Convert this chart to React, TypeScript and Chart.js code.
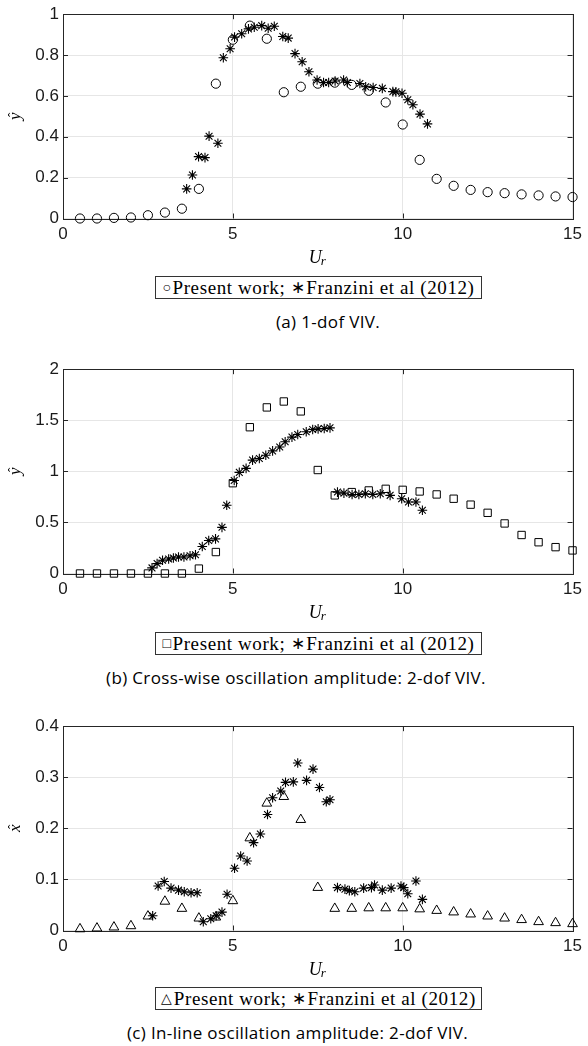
import React, { useEffect, useRef } from "react";
import { Chart, registerables } from "chart.js";

Chart.register(...registerables);

// ---------- data ----------
const presentX = [0.5, 1, 1.5, 2, 2.5, 3, 3.5, 4, 4.5, 5, 5.5, 6, 6.5, 7, 7.5, 8, 8.5, 9, 9.5, 10, 10.5, 11, 11.5, 12, 12.5, 13, 13.5, 14, 14.5, 15];

const presentA = [0, 0, 0.003, 0.005, 0.016, 0.029, 0.048, 0.145, 0.66, 0.875, 0.944, 0.88, 0.618, 0.645, 0.66, 0.665, 0.654, 0.625, 0.568, 0.46, 0.287, 0.194, 0.16, 0.14, 0.129, 0.124, 0.118, 0.113, 0.108, 0.105];
const franziniAX = [3.64, 3.81, 3.99, 4.18, 4.3, 4.56, 4.72, 4.92, 5.05, 5.26, 5.46, 5.63, 5.85, 6.04, 6.22, 6.47, 6.63, 6.83, 7.04, 7.24, 7.48, 7.67, 7.82, 8.01, 8.26, 8.37, 8.74, 8.91, 9.13, 9.4, 9.71, 9.8, 9.98, 10.15, 10.3, 10.51, 10.73];
const franziniAY = [0.145, 0.213, 0.303, 0.298, 0.403, 0.368, 0.787, 0.831, 0.888, 0.904, 0.928, 0.936, 0.944, 0.931, 0.941, 0.891, 0.883, 0.807, 0.767, 0.718, 0.678, 0.666, 0.666, 0.673, 0.678, 0.666, 0.661, 0.645, 0.641, 0.637, 0.621, 0.62, 0.613, 0.581, 0.557, 0.511, 0.463];

const presentB = [0, 0, 0, 0, 0, 0, 0, 0.048, 0.21, 0.884, 1.432, 1.626, 1.684, 1.587, 1.013, 0.765, 0.797, 0.813, 0.829, 0.819, 0.803, 0.774, 0.732, 0.674, 0.594, 0.49, 0.377, 0.306, 0.258, 0.226];
const franziniBX = [2.62, 2.77, 2.93, 3.11, 3.25, 3.4, 3.56, 3.74, 3.9, 4.1, 4.29, 4.49, 4.68, 4.82, 5.04, 5.19, 5.39, 5.58, 5.78, 5.97, 6.17, 6.38, 6.54, 6.74, 6.91, 7.16, 7.35, 7.51, 7.69, 7.86, 8.08, 8.27, 8.51, 8.71, 8.9, 9.12, 9.34, 9.63, 9.97, 10.17, 10.39, 10.58];
const franziniBY = [0.055, 0.097, 0.129, 0.142, 0.152, 0.161, 0.161, 0.174, 0.184, 0.265, 0.323, 0.339, 0.452, 0.668, 0.91, 0.99, 1.029, 1.11, 1.126, 1.158, 1.2, 1.239, 1.29, 1.335, 1.361, 1.387, 1.41, 1.416, 1.419, 1.426, 0.797, 0.787, 0.774, 0.774, 0.781, 0.774, 0.781, 0.765, 0.732, 0.7, 0.7, 0.619];

const presentC = [0.003, 0.0045, 0.0065, 0.009, 0.028, 0.057, 0.043, 0.024, 0.026, 0.058, 0.181, 0.249, 0.262, 0.217, 0.084, 0.043, 0.043, 0.044, 0.044, 0.044, 0.042, 0.039, 0.036, 0.032, 0.028, 0.024, 0.021, 0.017, 0.015, 0.013];
const franziniCX = [2.64, 2.8, 2.98, 3.18, 3.4, 3.57, 3.77, 3.95, 4.13, 4.35, 4.51, 4.68, 4.83, 5.05, 5.23, 5.42, 5.61, 5.81, 6.02, 6.17, 6.41, 6.55, 6.78, 6.91, 7.17, 7.36, 7.55, 7.75, 7.86, 8.08, 8.3, 8.43, 8.59, 8.85, 9.08, 9.17, 9.4, 9.66, 9.95, 10.03, 10.15, 10.39, 10.58];
const franziniCY = [0.029, 0.087, 0.096, 0.083, 0.079, 0.076, 0.074, 0.074, 0.017, 0.023, 0.029, 0.036, 0.071, 0.122, 0.146, 0.136, 0.172, 0.189, 0.227, 0.26, 0.273, 0.29, 0.291, 0.328, 0.294, 0.316, 0.28, 0.252, 0.256, 0.084, 0.081, 0.078, 0.076, 0.083, 0.084, 0.089, 0.079, 0.083, 0.087, 0.084, 0.072, 0.097, 0.061];

const xTicks = [0, 5, 10, 15];
const yTicksA = [0, 0.2, 0.4, 0.6, 0.8, 1];
const yTicksB = [0, 0.5, 1, 1.5, 2];
const yTicksC = [0, 0.1, 0.2, 0.3, 0.4];

const legendPresent = "Present work;";
const legendFranzini = "Franzini et al (2012)";
const captions = ["(a) 1-dof VIV.", "(b) Cross-wise oscillation amplitude: 2-dof VIV.", "(c) In-line oscillation amplitude: 2-dof VIV."];

// ---------- layout ----------
const W = 588;
const CH = 270;
const PAD_TOP = 12;
const AREA_H = 206.5;
const AXIS_COLOR = "#262626";

const fmt = (v: number) => String(Math.round(v * 1000) / 1000);

const framePlugin = {
  id: "frame",
  beforeDatasetsDraw(chart: any) {
    const { ctx, chartArea } = chart;
    const { left, right, top, bottom } = chartArea;
    ctx.save();
    ctx.strokeStyle = AXIS_COLOR;
    ctx.lineWidth = 1;
    ctx.strokeRect(Math.round(left) + 0.5, Math.round(top) + 0.5, Math.round(right) - Math.round(left), Math.round(bottom) - Math.round(top));
    const tl = 5;
    ctx.beginPath();
    chart.scales.x.ticks.forEach((t: any) => {
      const px = Math.round(chart.scales.x.getPixelForValue(t.value)) + 0.5;
      ctx.moveTo(px, bottom);
      ctx.lineTo(px, bottom - tl);
      ctx.moveTo(px, top);
      ctx.lineTo(px, top + tl);
    });
    chart.scales.y.ticks.forEach((t: any) => {
      const py = Math.round(chart.scales.y.getPixelForValue(t.value)) + 0.5;
      ctx.moveTo(left, py);
      ctx.lineTo(left + tl, py);
      ctx.moveTo(right, py);
      ctx.lineTo(right - tl, py);
    });
    ctx.stroke();
    ctx.restore();
  },
  afterDraw(chart: any) {
    const { ctx, chartArea } = chart;
    const opts = chart.options.plugins.frame;
    ctx.save();
    ctx.fillStyle = "#000";
    // y title: italic letter with a hat, rotated
    ctx.translate(16, (chartArea.top + chartArea.bottom) / 2);
    ctx.rotate(-Math.PI / 2);
    ctx.font = 'italic 17px "Liberation Serif"';
    ctx.textAlign = "center";
    ctx.textBaseline = "alphabetic";
    ctx.fillText(opts.yLetter, 0, 4);
    ctx.font = '13px "Liberation Serif"';
    ctx.fillText("\u02C6", 1.5, 1);
    ctx.restore();
    // x title U_r
    ctx.save();
    ctx.fillStyle = "#000";
    ctx.textBaseline = "alphabetic";
    ctx.textAlign = "left";
    const cx = (chartArea.left + chartArea.right) / 2;
    ctx.font = 'italic 18px "Liberation Serif"';
    const w1 = ctx.measureText("U").width;
    ctx.font = 'italic 13px "Liberation Serif"';
    const w2 = ctx.measureText("r").width;
    const x0 = cx - (w1 + w2) / 2;
    const by = chartArea.bottom + 44;
    ctx.font = 'italic 18px "Liberation Serif"';
    ctx.fillText("U", x0, by);
    ctx.font = 'italic 13px "Liberation Serif"';
    ctx.fillText("r", x0 + w1 - 1, by + 2.5);
    ctx.restore();
  },
};

type PanelProps = {
  top: number;
  yMax: number;
  yTicks: number[];
  present: number[];
  fx: number[];
  fy: number[];
  marker: string;
  markerRadius: number;
  yLetter: string;
  symbol: string;
  legendTop: number;
  caption: string;
  captionCenter: number;
  captionY: number;
};

function Panel(p: PanelProps) {
  const ref = useRef<HTMLCanvasElement>(null);
  useEffect(() => {
    const canvas = ref.current!;
    const chart = new Chart(canvas, {
      type: "scatter",
      data: {
        datasets: [
          {
            label: "Present work",
            data: presentX.map((x, i) => ({ x, y: p.present[i] })),
            pointStyle: p.marker as any,
            pointRadius: p.markerRadius,
            pointBorderWidth: 1,
            borderColor: "#000",
            backgroundColor: "rgba(0,0,0,0)",
            clip: false as any,
          },
          {
            label: "Franzini et al (2012)",
            data: p.fx.map((x, i) => ({ x, y: p.fy[i] })),
            pointStyle: "star",
            pointRadius: 4.8,
            pointBorderWidth: 1.1,
            borderColor: "#000",
            backgroundColor: "#000",
            clip: false as any,
          },
        ],
      },
      options: {
        animation: false,
        responsive: false,
        maintainAspectRatio: false,
        devicePixelRatio: 1,
        events: [],
        layout: { padding: { top: PAD_TOP, right: 10, left: 0, bottom: 0 } },
        plugins: {
          legend: { display: false },
          tooltip: { enabled: false },
          frame: { yLetter: p.yLetter },
        } as any,
        scales: {
          x: {
            type: "linear",
            min: 0,
            max: 15,
            afterBuildTicks: (s: any) => {
              s.ticks = xTicks.map((v) => ({ value: v }));
            },
            ticks: {
              padding: 6,
              color: "#1a1a1a",
              font: { family: '"Liberation Sans", Arial, sans-serif', size: 17 },
              callback: (v: any) => fmt(Number(v)),
            },
            grid: { color: "#e6e6e6", lineWidth: 1, drawTicks: false },
            border: { display: false },
            afterFit: (s: any) => {
              s.height = CH - PAD_TOP - AREA_H;
            },
          },
          y: {
            type: "linear",
            min: 0,
            max: p.yMax,
            afterBuildTicks: (s: any) => {
              s.ticks = p.yTicks.map((v) => ({ value: v }));
            },
            ticks: {
              padding: 4,
              color: "#1a1a1a",
              font: { family: '"Liberation Sans", Arial, sans-serif', size: 17 },
              callback: (v: any) => fmt(Number(v)),
            },
            grid: { color: "#e6e6e6", lineWidth: 1, drawTicks: false },
            border: { display: false },
            afterFit: (s: any) => {
              s.width = 63;
            },
          },
        },
      },
      plugins: [framePlugin],
    });
    return () => chart.destroy();
  }, []);

  return (
    <>
      <canvas
        ref={ref}
        width={W}
        height={CH}
        style={{ position: "absolute", left: 0, top: p.top, width: W, height: CH }}
      />
      <div
        style={{
          position: "absolute",
          left: 155,
          top: p.legendTop,
          width: 327,
          height: 23,
          boxSizing: "border-box",
          border: "1px solid #333",
          background: "#fff",
          display: "flex",
          alignItems: "center",
          justifyContent: "center",
          fontFamily: '"Liberation Serif", serif',
          fontSize: 19,
          letterSpacing: "0.6px",
          whiteSpace: "nowrap",
          color: "#000",
        }}
      >
        <span style={{ fontSize: 14, marginRight: 1, color: "#000" }}>{p.symbol}</span>
        <span>{legendPresent}&nbsp;</span>
        <span style={{ fontSize: 17, marginRight: 1 }}>{"\u2217"}</span>
        <span>{legendFranzini}</span>
      </div>
      <div
        style={{
          position: "absolute",
          left: p.captionCenter - 280,
          width: 560,
          top: p.captionY - 11,
          height: 22,
          lineHeight: "22px",
          textAlign: "center",
          fontFamily: '"Open Sans", sans-serif',
          fontSize: 17,
          letterSpacing: "0.35px",
          color: "#000",
          whiteSpace: "nowrap",
        }}
      >
        {p.caption}
      </div>
    </>
  );
}

export default function App() {
  return (
    <div style={{ position: "absolute", left: 0, top: 0, width: W, height: 1046, background: "#fff", overflow: "hidden" }}>
      <Panel
        top={0}
        yMax={1}
        yTicks={yTicksA}
        present={presentA}
        fx={franziniAX}
        fy={franziniAY}
        marker="circle"
        markerRadius={4.6}
        yLetter="y"
        symbol={"\u25CB"}
        legendTop={276}
        caption={captions[0]}
        captionCenter={328}
        captionY={321.5}
      />
      <Panel
        top={355}
        yMax={2}
        yTicks={yTicksB}
        present={presentB}
        fx={franziniBX}
        fy={franziniBY}
        marker="rect"
        markerRadius={5.2}
        yLetter="y"
        symbol={"\u25A1"}
        legendTop={632}
        caption={captions[1]}
        captionCenter={296}
        captionY={677.5}
      />
      <Panel
        top={712}
        yMax={0.4}
        yTicks={yTicksC}
        present={presentC}
        fx={franziniCX}
        fy={franziniCY}
        marker="triangle"
        markerRadius={5.6}
        yLetter="x"
        symbol={"\u25B3"}
        legendTop={987}
        caption={captions[2]}
        captionCenter={297.5}
        captionY={1033}
      />
    </div>
  );
}
